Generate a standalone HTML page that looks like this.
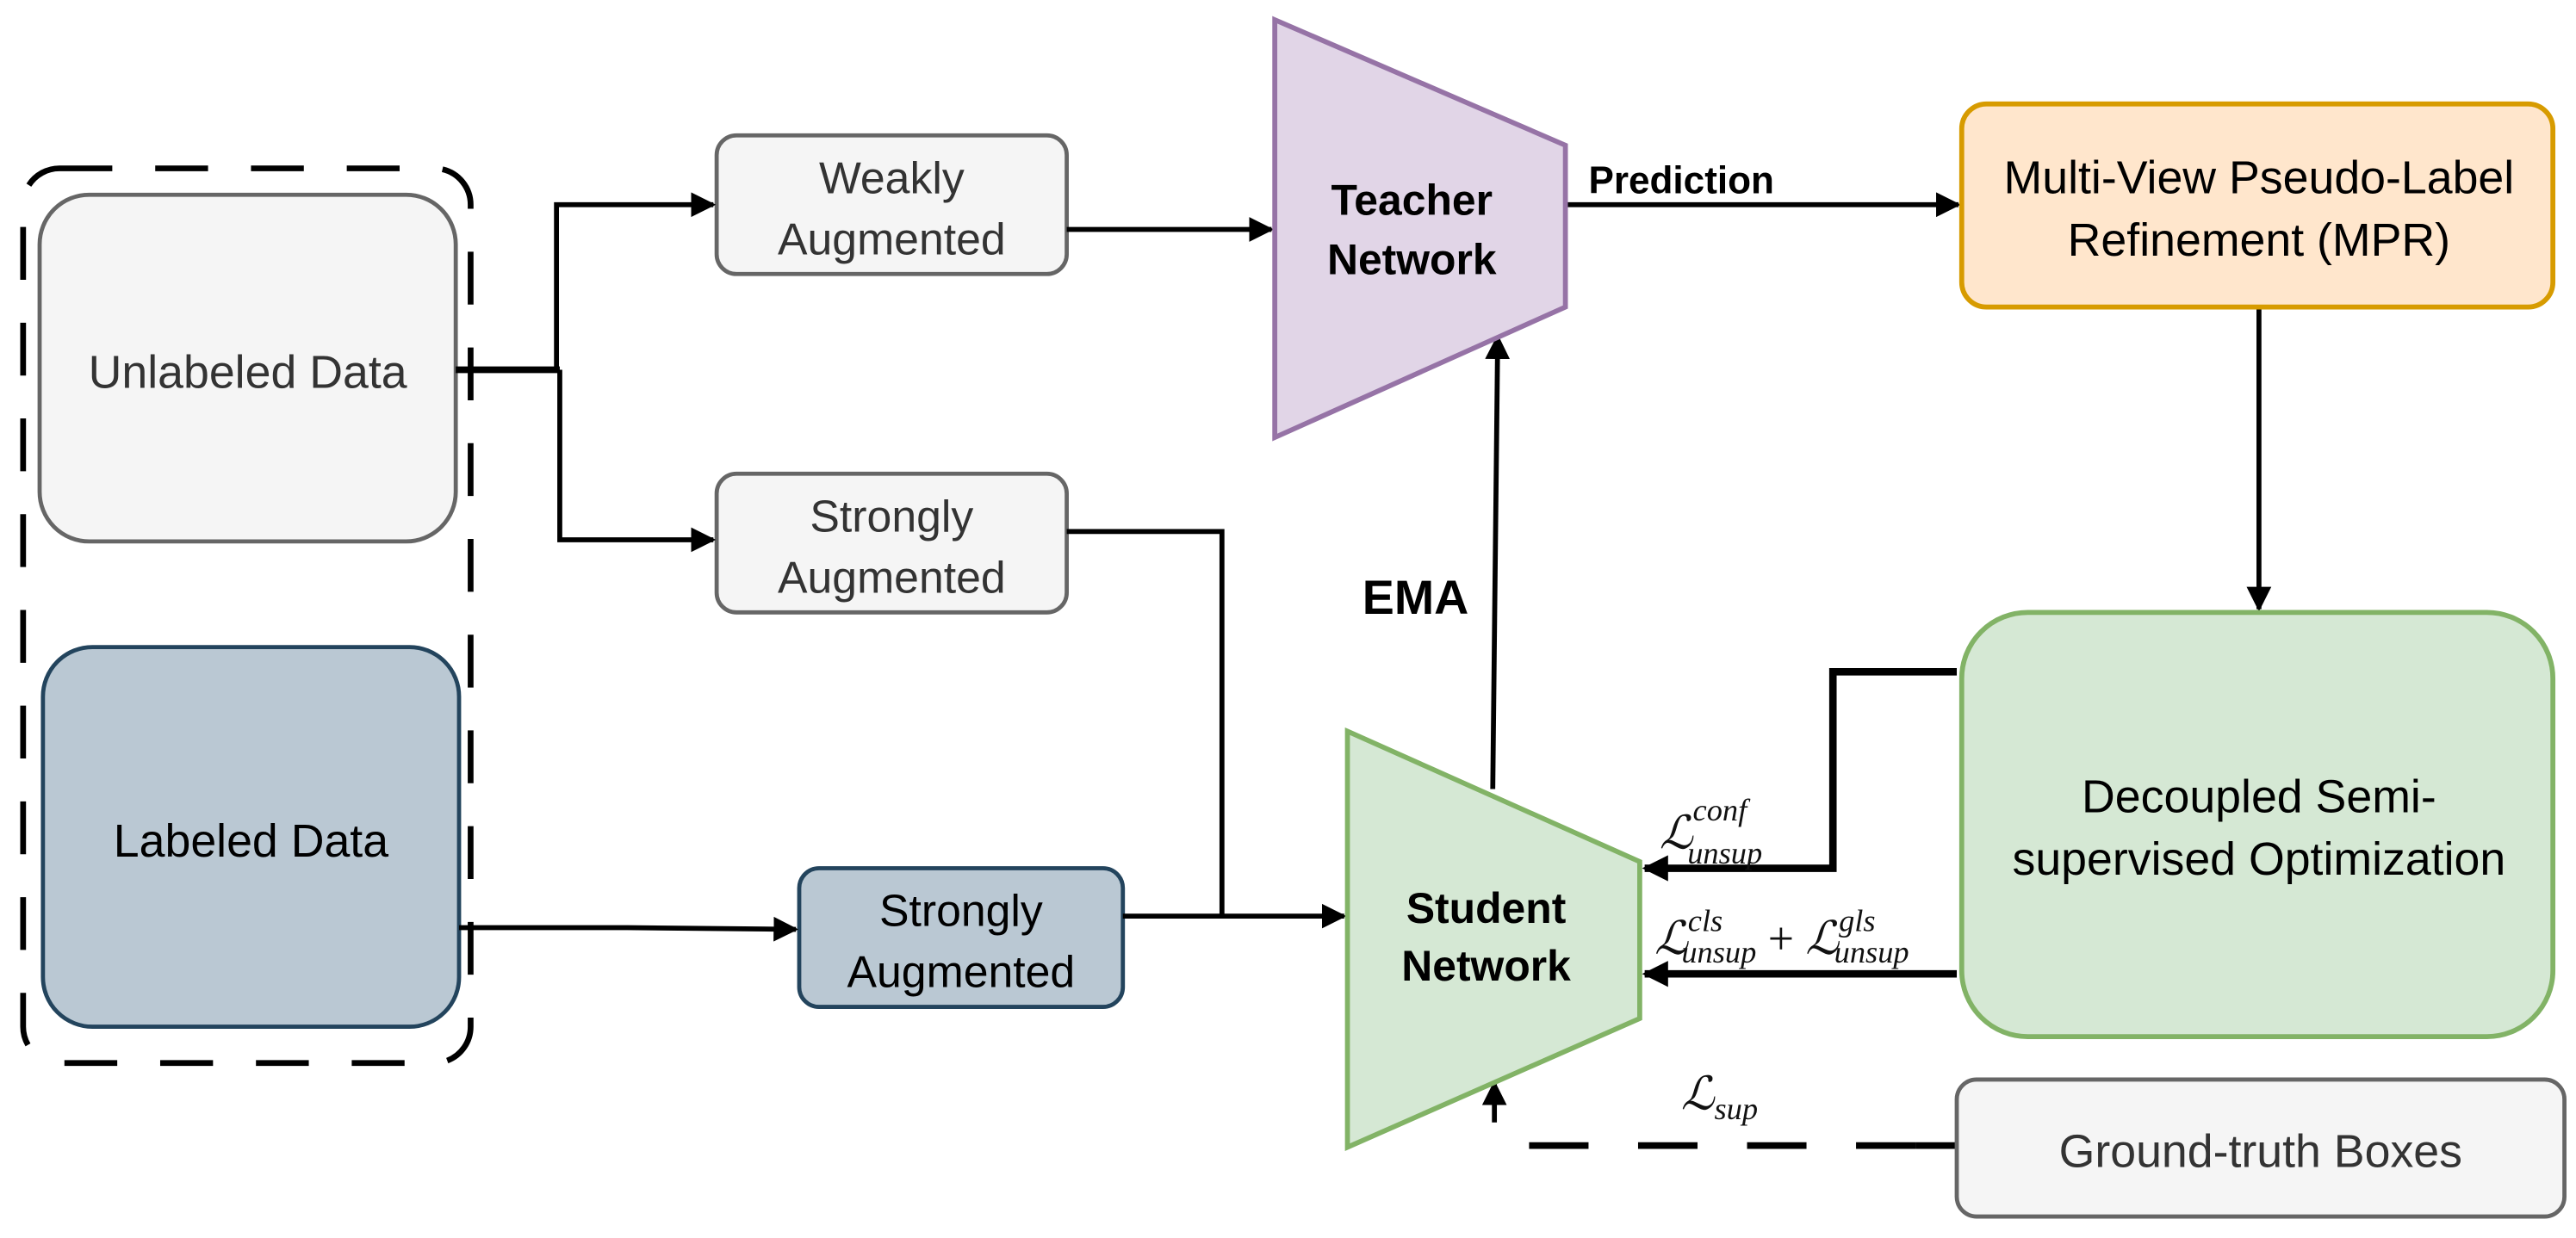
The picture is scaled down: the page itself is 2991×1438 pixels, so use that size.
<!DOCTYPE html>
<html><head><style>html,body{margin:0;padding:0;background:#fff}svg{display:block}</style></head>
<body>
<svg width="2991" height="1438" viewBox="0 0 1560 750" preserveAspectRatio="none" xmlns="http://www.w3.org/2000/svg" font-family="Liberation Sans, sans-serif">
<defs>
<marker id="a" viewBox="0 0 10 10" refX="9" refY="5" markerWidth="5" markerHeight="5" orient="auto" markerUnits="strokeWidth"><path d="M0,0L10,5L0,10z" fill="#000"/></marker>
<marker id="b" viewBox="0 0 10 10" refX="9" refY="5" markerWidth="3.5" markerHeight="3.5" orient="auto" markerUnits="strokeWidth"><path d="M0,0L10,5L0,10z" fill="#000"/></marker>
</defs>
<rect x="14" y="102" width="271" height="542" rx="22" fill="none" stroke="#000" stroke-width="3.5" stroke-dasharray="32,26"/>
<rect x="24" y="118" width="252" height="210" rx="30" fill="#f5f5f5" stroke="#666" stroke-width="2.5"/>
<text x="150" y="235" font-size="28" fill="#333" text-anchor="middle">Unlabeled Data</text>
<rect x="26" y="392" width="252" height="230" rx="30" fill="#bac8d3" stroke="#23445d" stroke-width="2.5"/>
<text x="152" y="519" font-size="28" fill="#000" text-anchor="middle">Labeled Data</text>

<rect x="434" y="82" width="212" height="84" rx="12" fill="#f5f5f5" stroke="#666" stroke-width="2.5"/>
<text x="540" y="117" font-size="27" fill="#333" text-anchor="middle">Weakly</text>
<text x="540" y="154" font-size="27" fill="#333" text-anchor="middle">Augmented</text>
<rect x="434" y="287" width="212" height="84" rx="12" fill="#f5f5f5" stroke="#666" stroke-width="2.5"/>
<text x="540" y="322" font-size="27" fill="#333" text-anchor="middle">Strongly</text>
<text x="540" y="359" font-size="27" fill="#333" text-anchor="middle">Augmented</text>
<rect x="484" y="526" width="196" height="84" rx="12" fill="#bac8d3" stroke="#23445d" stroke-width="2.5"/>
<text x="582" y="561" font-size="27" fill="#000" text-anchor="middle">Strongly</text>
<text x="582" y="598" font-size="27" fill="#000" text-anchor="middle">Augmented</text>

<g stroke="#000" stroke-width="3" fill="none">
<path d="M276,224H339" stroke-width="4"/>
<path d="M337,224V124H432" marker-end="url(#a)"/>
<path d="M339,224V327H432" marker-end="url(#a)"/>
<path d="M646,139H770" marker-end="url(#a)"/>
<path d="M948,124H1186" marker-end="url(#a)"/>
<path d="M1368,186V369" marker-end="url(#a)"/>
<path d="M646,322H740V555"/>
<path d="M680,555H814" marker-end="url(#a)"/>
<path d="M278,562H380L482,563" marker-end="url(#a)"/>
<path d="M904,478L907,204" marker-end="url(#a)"/>
<path d="M1185,407H1110V526H996" stroke-width="4.5" marker-end="url(#b)"/>
<path d="M1185,590H996" stroke-width="4.5" marker-end="url(#b)"/>
<path d="M1160,694H925" stroke-width="4" stroke-dasharray="36,30"/>
<path d="M1185,694H1160" stroke-width="4"/>
<path d="M905,680V656" marker-end="url(#a)"/>
</g>

<path d="M772,12L948,88V186L772,265Z" fill="#e1d5e7" stroke="#9673a6" stroke-width="3"/>
<text x="855" y="130" font-size="26" font-weight="bold" text-anchor="middle">Teacher</text>
<text x="855" y="166" font-size="26" font-weight="bold" text-anchor="middle">Network</text>
<text x="962" y="117" font-size="23" font-weight="bold">Prediction</text>
<text x="825" y="372" font-size="29" font-weight="bold">EMA</text>

<path d="M816,443L993,522V617L816,695Z" fill="#d5e8d4" stroke="#82b366" stroke-width="3"/>
<text x="900" y="559" font-size="26" font-weight="bold" text-anchor="middle">Student</text>
<text x="900" y="594" font-size="26" font-weight="bold" text-anchor="middle">Network</text>

<rect x="1188" y="63" width="358" height="123" rx="15" fill="#ffe6cc" stroke="#d79b00" stroke-width="3"/>
<text x="1368" y="117" font-size="28" text-anchor="middle">Multi-View Pseudo-Label</text>
<text x="1368" y="155" font-size="28" text-anchor="middle">Refinement (MPR)</text>

<rect x="1188" y="371" width="358" height="257" rx="40" fill="#d5e8d4" stroke="#82b366" stroke-width="3"/>
<text x="1368" y="492" font-size="28" text-anchor="middle">Decoupled Semi-</text>
<text x="1368" y="530" font-size="28" text-anchor="middle">supervised Optimization</text>

<rect x="1185" y="654" width="368" height="83" rx="12" fill="#f5f5f5" stroke="#666" stroke-width="2.5"/>
<text x="1369" y="707" font-size="28" fill="#333" text-anchor="middle">Ground-truth Boxes</text>

<g font-family="Liberation Serif, serif" font-style="italic" fill="#111">
<text x="1005" y="514" font-size="28">ℒ<tspan font-size="19" dy="-17">conf</tspan><tspan font-size="19" dx="-36" dy="26">unsup</tspan></text>
<text x="1002" y="578" font-size="28">ℒ<tspan font-size="19" dy="-14">cls</tspan><tspan font-size="19" dx="-25" dy="19">unsup</tspan><tspan font-style="normal" dy="-5"> + </tspan>ℒ<tspan font-size="19" dy="-14">gls</tspan><tspan font-size="19" dx="-25" dy="19">unsup</tspan></text>
<text x="1018" y="672" font-size="28">ℒ<tspan font-size="19" dy="6">sup</tspan></text>
</g>
</svg>
</body></html>
